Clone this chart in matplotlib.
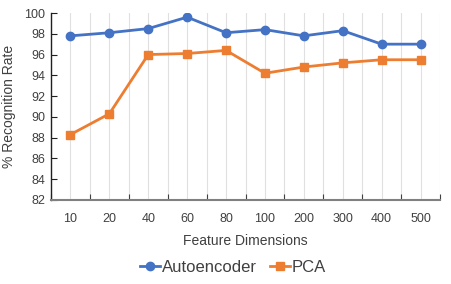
import numpy as np
import matplotlib
matplotlib.use('Agg')
import matplotlib.pyplot as plt

plt.rcParams['font.family'] = ['Liberation Sans', 'DejaVu Sans']

# Data
dims = ['10', '20', '40', '60', '80', '100', '200', '300', '400', '500']
autoencoder = [97.8, 98.1, 98.5, 99.6, 98.1, 98.4, 97.8, 98.3, 97.0, 97.0]
pca = [88.3, 90.3, 96.0, 96.1, 96.4, 94.2, 94.8, 95.2, 95.5, 95.5]

text_color = '#404040'
x = np.arange(len(dims))

fig = plt.figure(figsize=(4.51, 2.84), dpi=100)
ax = fig.add_axes([51 / 451, 1 - 200 / 284, 389 / 451, 187 / 284])

ax.plot(x, autoencoder, color='#4472C4', marker='o', markersize=6,
        linewidth=2, label='Autoencoder', zorder=3)
ax.plot(x, pca, color='#ED7D31', marker='s', markersize=6,
        linewidth=2, label='PCA', zorder=3)

ax.set_xlim(-0.5, len(dims) - 0.5)
ax.set_ylim(82, 100)
ax.set_yticks(np.arange(82, 101, 2))
ax.set_xticks(x)
ax.set_xticklabels(dims)
ax.set_xticks(np.arange(-0.5, len(dims), 1), minor=True)

# vertical gridlines at both centers and boundaries
ax.grid(True, axis='x', which='both', color='#E0E0E0', linewidth=0.8, zorder=0)
ax.grid(False, axis='y')

ax.tick_params(axis='x', which='major', length=0, labelsize=9,
               labelcolor=text_color, pad=9)
ax.tick_params(axis='x', which='minor', direction='in', length=4,
               color='#404040', width=0.8)
ax.tick_params(axis='y', direction='in', length=4, labelsize=9,
               labelcolor=text_color, color='#202020', width=0.8, pad=4)

for side in ['top', 'right']:
    ax.spines[side].set_visible(False)
ax.spines['left'].set_color('#202020')
ax.spines['left'].set_linewidth(1)
ax.spines['bottom'].set_color('#808080')
ax.spines['bottom'].set_linewidth(1.5)

ax.set_xlabel('Feature Dimensions', fontsize=10, color=text_color, labelpad=7)
ax.set_ylabel('% Recognition Rate', fontsize=10, color=text_color, labelpad=6)

fig.legend(loc='center', bbox_to_anchor=(0.517, 1 - 267 / 284), ncol=2,
           frameon=False, fontsize=12, handlelength=1.2, handletextpad=0.1,
           columnspacing=0.8, labelcolor=text_color)

plt.savefig('out.png', dpi=100)
